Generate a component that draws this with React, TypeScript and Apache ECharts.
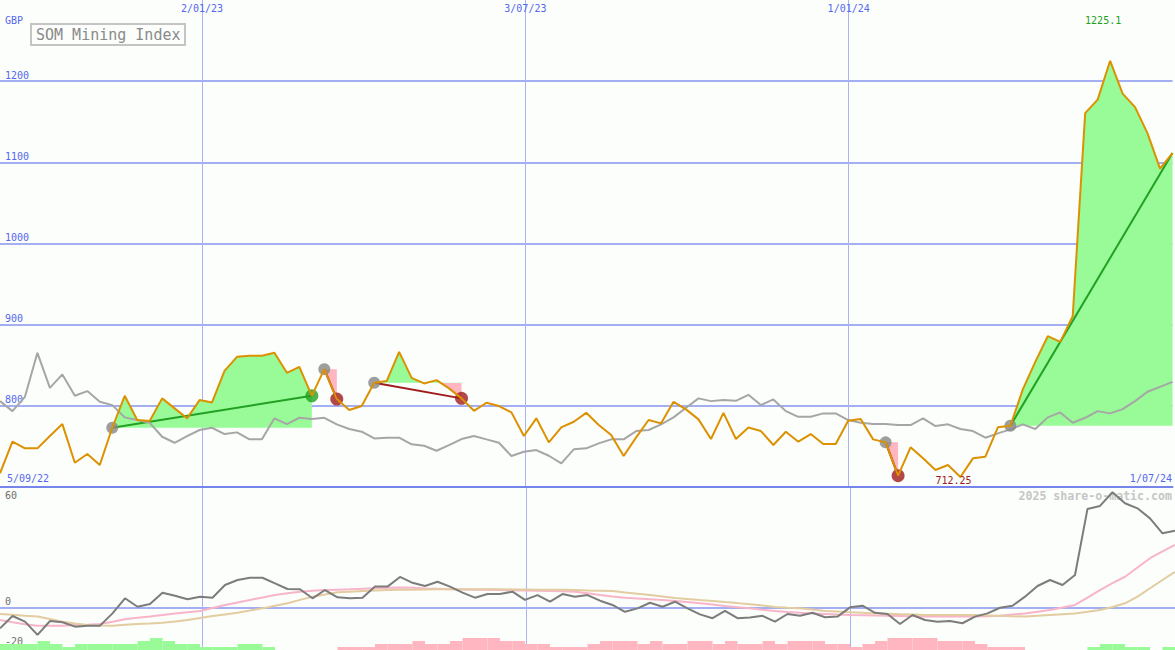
import React, { useEffect, useRef } from "react";
import * as echarts from "echarts";

// ---- data (weekly points, index 0 = 5/09/22) ----
const price = [
  716.9, 755.8, 747.6, 747.6, 762.8, 777.5, 729.9, 740.6, 727.1, 773.0,
  812.4, 782.5, 781.2, 809.2, 796.9, 784.6, 807.1, 804.2, 843.1, 860.4,
  861.6, 861.6, 865.3, 840.7, 848.1, 812.3, 845.2, 808.3, 794.8, 799.7,
  828.4, 830.5, 866.5, 834.5, 827.6, 831.7, 821.5, 809.2, 793.9, 803.8,
  799.7, 791.9, 762.8, 784.6, 755.0, 773.5, 780.4, 791.4, 776.3, 764.0,
  738.2, 761.2, 782.5, 778.4, 805.0, 795.6, 783.3, 759.1, 791.4, 759.1,
  773.2, 768.9, 751.7, 768.1, 755.8, 765.2, 752.9, 752.9, 781.6, 783.7,
  758.7, 755.0, 714.0, 748.9, 735.3, 720.9, 727.1, 712.25, 735.3, 737.3,
  773.5, 775.4, 820.2, 854.2, 885.8, 878.8, 910.5, 1160.7, 1177.2, 1225.1,
  1184.6, 1168.0, 1135.7, 1092.2, 1111.4,
];
const relative = [
  805.8, 793.5, 811.1, 865.3, 822.2, 838.7, 812.4, 818.2, 805.0, 800.9,
  785.8, 782.5, 779.1, 761.9, 754.5, 762.8, 770.2, 773.0, 765.2, 767.3,
  758.7, 758.7, 784.6, 777.5, 785.3, 783.7, 785.3, 777.2, 771.4, 768.1,
  759.9, 760.7, 760.7, 752.6, 750.8, 744.7, 751.7, 759.1, 762.8, 758.7,
  754.5, 738.2, 743.4, 745.5, 738.5, 729.2, 746.4, 747.6, 753.8, 758.7,
  758.7, 768.9, 770.2, 777.2, 785.8, 797.6, 809.2, 805.8, 807.1, 806.2,
  813.6, 800.9, 807.9, 793.5, 786.5, 786.5, 790.7, 790.7, 782.5, 779.1,
  777.5, 777.5, 776.3, 776.3, 784.6, 775.1, 777.2, 771.4, 768.9, 760.7,
  766.1, 771.0, 777.2, 771.4, 785.8, 791.9, 779.1, 785.3, 793.5, 790.7,
  796.0, 805.8, 817.3, 823.4, 829.6,
];
const oscillator = [
  -10.2, -4.1, -6.9, -13.5, -6.6, -7.2, -9.4, -8.9, -8.9, -2.8,
  4.7, 0.5, 1.9, 7.5, 6.0, 4.2, 5.5, 5.0, 11.3, 13.8,
  14.9, 14.9, 12.1, 9.3, 9.2, 4.7, 8.8, 5.2, 4.7, 5.0,
  10.5, 10.5, 15.3, 12.4, 10.8, 12.9, 10.5, 7.5, 5.0, 6.8,
  6.8, 8.0, 3.9, 6.3, 3.0, 6.8, 5.5, 6.3, 3.5, 1.4,
  -2.0, -0.3, 2.5, 0.5, 3.0, -0.3, -3.3, -5.2, -1.6, -5.2,
  -4.9, -4.0, -6.9, -3.1, -4.0, -2.5, -4.7, -4.4, 0.2, 1.0,
  -2.5, -3.1, -8.1, -3.6, -6.1, -6.9, -6.6, -7.7, -4.4, -2.8,
  0.0, 1.0, 5.5, 10.8, 13.8, 11.3, 16.3, 49.1, 50.6, 57.4,
  51.9, 49.4, 44.4, 37.0, 38.3,
];
const oscFast = [
  -6.1, -7.2, -8.2, -8.9, -9.0, -8.9, -8.6, -8.4, -8.1, -7.0,
  -5.7, -5.0, -4.4, -3.6, -2.8, -2.2, -1.6, -0.1, 1.4, 2.6,
  3.9, 5.1, 6.3, 7.2, 8.0, 8.4, 8.8, 9.0, 9.2, 9.5,
  9.7, 9.9, 10.1, 9.9, 9.6, 9.4, 9.2, 9.1, 9.0, 8.9,
  8.8, 8.7, 8.6, 8.4, 8.3, 8.2, 8.0, 7.2, 6.3, 5.6,
  5.0, 4.6, 4.2, 3.8, 3.4, 2.8, 2.2, 1.6, 0.9, 0.3,
  -0.3, -1.0, -1.6, -2.1, -2.5, -2.8, -3.1, -3.4, -3.6, -3.7,
  -3.9, -4.0, -4.1, -4.2, -4.3, -4.4, -4.4, -4.4, -4.4, -4.2,
  -4.0, -3.4, -2.8, -2.0, -1.1, 0.1, 1.4, 5.0, 8.8, 12.2,
  15.4, 20.0, 24.6, 28.0, 31.2,
];
const oscSlow = [
  -3.1, -3.5, -4.0, -4.4, -5.6, -6.9, -7.8, -8.6, -8.8, -8.9,
  -8.5, -8.1, -7.8, -7.4, -6.8, -6.1, -5.1, -4.1, -3.3, -2.5,
  -1.4, -0.3, 1.0, 2.2, 3.9, 5.5, 6.6, 7.7, 8.0, 8.3,
  8.6, 8.8, 8.9, 9.0, 9.1, 9.2, 9.2, 9.2, 9.2, 9.2,
  9.2, 9.1, 9.1, 9.0, 9.0, 8.9, 8.8, 8.6, 8.5, 8.3,
  7.6, 7.0, 6.3, 5.6, 4.9, 4.3, 3.8, 3.4, 2.8, 2.3,
  1.7, 1.1, 0.4, 0.0, -0.3, -0.9, -1.6, -1.9, -2.2, -2.5,
  -2.8, -3.0, -3.2, -3.4, -3.6, -3.6, -3.6, -3.6, -3.6, -3.8,
  -4.0, -4.2, -4.4, -4.0, -3.6, -3.2, -2.8, -2.0, -1.1, 0.4,
  2.2, 5.5, 9.7, 13.8, 17.9,
];
const momentum = [
  2, 2, 2, 3, 2, 1, 2, 2, 2, 2,
  2, 3, 4, 3, 2, 2, 1, 1, 1, 2,
  2, 1, 0, 0, 0, 0, 0, -1, -1, -1,
  -2, -2, -2, -3, -2, -2, -3, -4, -4, -4,
  -3, -3, -2, -2, -1, -1, -1, -2, -3, -3,
  -3, -2, -3, -2, -2, -3, -3, -2, -3, -2,
  -2, -3, -2, -3, -3, -3, -2, -2, -1, -2,
  -3, -4, -4, -4, -4, -3, -3, -3, -2, -1,
  -1, -1, 0, 0, 0, 0, 0, 1, 2, 2,
  1, 1, 0, 1,
];
const priceTicks = [800, 900, 1000, 1100, 1200];
const oscLabelsAbove = [-20, 0];
const oscLabelsBelow = [60];
const oscZeroLine = [0];
const dateTickPos = [16.2, 42.12, 68.04];
const dateTickLabels = ["2/01/23", "3/07/23", "1/01/24"];
const startLabel = "5/09/22";
const endLabel = "1/07/24";
const segStart = [9, 26, 30, 71, 81];
const segEnd = [25, 27, 37, 72, 94];
const segOpen = [false, false, false, false, true];
const highIdx = 89;
const lowIdx = 77;

const MONO = '"DejaVu Sans Mono", "Liberation Mono", monospace';
const BLUE = "#5468f0";
const GRID_BLUE = "#a4aef2";
const VLINE_BLUE = "#aab2f4";
const GREEN_FILL = "#98fb98";
const PINK_FILL = "#ffb6c1";
const TREND_UP = "#22a022";
const TREND_DOWN = "#a01c1c";

function near(a: number, b: number) {
  return Math.abs(a - b) < 1e-6;
}

function buildOption() {
  const xMax = price.length - 1;
  const series: any[] = [];
  const visualMaps: any[] = [];

  // segment fills (green above the start level, pink below)
  segStart.forEach((s, k) => {
    const e = segEnd[k];
    const level = price[s];
    series.push({
      type: "line",
      xAxisIndex: 0,
      yAxisIndex: 0,
      data: price.slice(s, e + 1).map((v, j) => [s + j, v]),
      symbol: "none",
      showSymbol: false,
      lineStyle: { width: 0, opacity: 0 },
      areaStyle: { origin: level, opacity: 1 },
      z: 1,
      silent: true,
    });
    visualMaps.push({
      type: "piecewise",
      show: false,
      seriesIndex: series.length - 1,
      dimension: 1,
      pieces: [
        { gte: 0, lt: level, color: PINK_FILL },
        { gte: level, lte: 5000, color: GREEN_FILL },
      ],
    });
  });

  // trend lines
  segStart.forEach((s, k) => {
    const e = segEnd[k];
    const up = price[e] >= price[s];
    series.push({
      type: "line",
      xAxisIndex: 0,
      yAxisIndex: 0,
      data: [
        [s, price[s]],
        [e, price[e]],
      ],
      symbol: "none",
      lineStyle: { color: up ? TREND_UP : TREND_DOWN, width: 2 },
      z: 2,
      silent: true,
    });
  });

  // comparison line + panel grid lines
  series.push({
    type: "line",
    xAxisIndex: 0,
    yAxisIndex: 0,
    data: relative.map((v, i) => [i, v]),
    symbol: "none",
    lineStyle: { color: "#a6a6a6", width: 2 },
    z: 2,
    silent: true,
    markLine: {
      silent: true,
      symbol: "none",
      z: 0,
      label: { show: false },
      data: [
        ...priceTicks.map((v) => ({ yAxis: v, lineStyle: { color: GRID_BLUE, width: 2, type: "solid" } })),
        ...dateTickPos.map((v) => ({ xAxis: v, lineStyle: { color: VLINE_BLUE, width: 1, type: "solid" } })),
      ],
    },
  });

  // markers
  series.push({
    type: "scatter",
    xAxisIndex: 0,
    yAxisIndex: 0,
    data: segStart.map((s) => [s, price[s]]),
    symbolSize: 12,
    itemStyle: { color: "#868686" },
    z: 3,
    silent: true,
  });
  series.push({
    type: "scatter",
    xAxisIndex: 0,
    yAxisIndex: 0,
    data: segEnd
      .map((e, k) => ({ e, k }))
      .filter((o) => !segOpen[o.k])
      .map((o) => ({
        value: [o.e, price[o.e]],
        itemStyle: { color: price[o.e] >= price[segStart[o.k]] ? TREND_UP : TREND_DOWN },
      })),
    symbolSize: 13,
    z: 3,
    silent: true,
  });

  // price line
  series.push({
    type: "line",
    xAxisIndex: 0,
    yAxisIndex: 0,
    data: price.map((v, i) => [i, v]),
    symbol: "none",
    lineStyle: { color: "#dc9100", width: 2 },
    z: 4,
    silent: true,
    markPoint: {
      symbol: "circle",
      symbolSize: 2,
      silent: true,
      itemStyle: { color: "rgba(0,0,0,0)" },
      label: {
        show: true,
        position: "inside",
        fontFamily: MONO,
        fontSize: 10,
        formatter: (p: any) => String(p.value),
      },
      data: [
        {
          name: "high",
          xAxis: highIdx,
          yAxis: price[highIdx],
          value: price[highIdx],
          label: { offset: [-7, -40], color: "#20a020" },
        },
        {
          name: "low",
          xAxis: lowIdx,
          yAxis: price[lowIdx],
          value: price[lowIdx],
          label: { offset: [-7, 3], color: TREND_DOWN },
        },
      ],
    },
  });

  // lower panel
  series.push({
    type: "line",
    xAxisIndex: 2,
    yAxisIndex: 1,
    data: oscFast.map((v, i) => [i, v]),
    symbol: "none",
    lineStyle: { color: "#f8b4c8", width: 2 },
    z: 2,
    silent: true,
  });
  series.push({
    type: "line",
    xAxisIndex: 2,
    yAxisIndex: 1,
    data: oscSlow.map((v, i) => [i, v]),
    symbol: "none",
    lineStyle: { color: "#e2cca0", width: 2 },
    z: 2,
    silent: true,
  });
  series.push({
    type: "line",
    xAxisIndex: 2,
    yAxisIndex: 1,
    data: oscillator.map((v, i) => [i, v]),
    symbol: "none",
    lineStyle: { color: "#7c7c7c", width: 2 },
    z: 3,
    silent: true,
    markLine: {
      silent: true,
      symbol: "none",
      z: 0,
      label: { show: false },
      data: [
        ...oscZeroLine.map((v) => ({ yAxis: v, lineStyle: { color: GRID_BLUE, width: 2, type: "solid" } })),
        ...dateTickPos.map((v) => ({ xAxis: v, lineStyle: { color: VLINE_BLUE, width: 1, type: "solid" } })),
      ],
    },
  });

  // momentum bars
  series.push({
    type: "bar",
    xAxisIndex: 3,
    yAxisIndex: 2,
    barWidth: 12.5,
    silent: true,
    z: 2,
    data: momentum.map((v, i) => ({
      value: [i + 0.5, Math.abs(v)],
      itemStyle: { color: v >= 0 ? GREEN_FILL : PINK_FILL },
    })),
  });

  const labelBase = { fontFamily: MONO, fontSize: 10 };

  return {
    animation: false,
    backgroundColor: "#fbfefb",
    title: {
      text: "SOM Mining Index",
      left: 31,
      top: 24,
      padding: [3, 5],
      borderColor: "#c4c4c4",
      borderWidth: 2,
      textStyle: { color: "#8a8a8a", fontSize: 15, fontFamily: MONO, fontWeight: "normal" },
    },
    visualMap: visualMaps,
    grid: [
      { left: 0, top: 0, width: 1175, height: 487 },
      { left: 0, top: 487, width: 1175, height: 161 },
      { left: 0, top: 638, width: 1175, height: 12 },
    ],
    xAxis: [
      {
        type: "value",
        gridIndex: 0,
        position: "bottom",
        min: 0,
        max: xMax,
        axisLine: { show: true, lineStyle: { color: "#7685ec", width: 2 } },
        axisTick: { show: false },
        splitLine: { show: false },
        axisLabel: { show: false },
      },
      {
        type: "value",
        gridIndex: 0,
        position: "top",
        min: 0,
        max: xMax,
        interval: 0.54,
        axisLine: { show: false },
        axisTick: { show: false },
        splitLine: { show: false },
        axisLabel: {
          ...labelBase,
          color: BLUE,
          inside: true,
          margin: 3,
          showMinLabel: false,
          showMaxLabel: false,
          formatter: (v: number) => {
            const k = dateTickPos.findIndex((p) => near(p, v));
            return k >= 0 ? dateTickLabels[k] : "";
          },
        },
      },
      { type: "value", gridIndex: 1, min: 0, max: xMax, show: false },
      { type: "value", gridIndex: 2, min: 0, max: xMax, show: false },
    ],
    yAxis: [
      {
        type: "value",
        gridIndex: 0,
        position: "left",
        min: 700,
        max: 1300,
        interval: 100,
        name: "GBP",
        nameLocation: "end",
        nameGap: -20,
        nameTextStyle: { ...labelBase, color: BLUE, align: "left", verticalAlign: "middle", padding: [0, 0, 0, 5] },
        axisLine: { show: false },
        axisTick: { show: false },
        splitLine: { show: false },
        axisLabel: {
          ...labelBase,
          color: BLUE,
          inside: true,
          margin: 5,
          verticalAlign: "bottom",
          padding: [0, 0, 1, 0],
          showMinLabel: false,
          showMaxLabel: false,
          formatter: (v: number) => (priceTicks.some((t) => near(t, v)) ? String(v) : ""),
        },
      },
      {
        type: "value",
        gridIndex: 1,
        position: "left",
        min: -20,
        max: 60,
        interval: 20,
        axisLine: { show: false },
        axisTick: { show: false },
        splitLine: { show: false },
        axisLabel: {
          ...labelBase,
          color: "#6e6e6e",
          inside: true,
          margin: 5,
          verticalAlign: "middle",
          formatter: (v: number) => {
            if (oscLabelsAbove.some((t) => near(t, v))) return "{a|" + v + "}";
            if (oscLabelsBelow.some((t) => near(t, v))) return "{b|" + v + "}";
            return "";
          },
          rich: {
            a: { ...labelBase, color: "#6e6e6e", padding: [0, 0, 13, 0] },
            b: { ...labelBase, color: "#6e6e6e", padding: [17, 0, 0, 0] },
          },
        },
      },
      { type: "value", gridIndex: 2, min: 0, max: 4, show: false },
    ],
    graphic: [
      {
        type: "text",
        right: 3,
        top: 490,
        silent: true,
        style: {
          text: "2025 share-o-matic.com",
          fill: "#c6c6c6",
          font: 'bold 11.6px "DejaVu Sans Mono", monospace',
        },
      },
      {
        type: "text",
        left: 7,
        top: 473,
        silent: true,
        style: { text: startLabel, fill: BLUE, font: '10px "DejaVu Sans Mono", monospace' },
      },
      {
        type: "text",
        right: 3,
        top: 473,
        silent: true,
        style: { text: endLabel, fill: BLUE, font: '10px "DejaVu Sans Mono", monospace' },
      },
    ],
    series,
  };
}

export default function App() {
  const ref = useRef<HTMLDivElement>(null);
  useEffect(() => {
    if (!ref.current) return;
    const chart = echarts.init(ref.current, null, { renderer: "svg" });
    chart.setOption(buildOption() as any);
    return () => chart.dispose();
  }, []);
  return (
    <div
      ref={ref}
      style={{ position: "fixed", left: 0, top: 0, width: 1175, height: 650 }}
    />
  );
}
